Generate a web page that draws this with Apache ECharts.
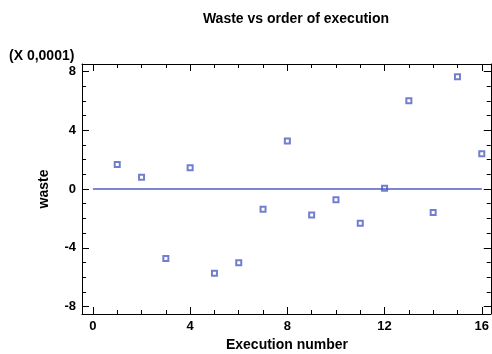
<!DOCTYPE html>
<html>
<head>
<meta charset="UTF-8">
<title>Waste vs order of execution</title>
<script src="https://cdn.jsdelivr.net/npm/echarts@6/dist/echarts.min.js"></script>
<style>
  html, body { margin: 0; padding: 0; background: #fff; }
  #chart { width: 492px; height: 354px; }
</style>
</head>
<body>
<div id="chart"></div>
<script>
// execution order and waste (in units of 0.0001)
var runs  = [1, 2, 3, 4, 5, 6, 7, 8, 9, 10, 11, 12, 13, 14, 15, 16];
var waste = [1.67, 0.80, -4.73, 1.44, -5.73, -5.02, -1.37, 3.27, -1.76, -0.73, -2.33, 0.05, 6.0, -1.6, 7.63, 2.39];
var zeroLineX = [0, 16];
var xMajor = [0, 4, 8, 12, 16];
var yMajor = [-8, -4, 0, 4, 8];
var xMinor = [0, 1, 2, 3, 4, 5, 6, 7, 8, 9, 10, 11, 12, 13, 14, 15, 16];
var yMinor = [-8, -7, -6, -5, -4, -3, -2, -1, 0, 1, 2, 3, 4, 5, 6, 7, 8];

var font = 'Liberation Sans, Arial, sans-serif';
var blue = '#4d5ec2';
var xRange = [-0.45, 16.37];
var yRange = [-8.5, 8.5];

function axis(range, pos, ticks, len, labels, line) {
  return {
    type: 'value', position: pos, min: range[0], max: range[1],
    splitLine: { show: false },
    axisLine: { show: line, onZero: false, lineStyle: { color: '#000', width: 1 } },
    axisTick: { show: true, inside: true, length: len, customValues: ticks, lineStyle: { color: '#000' } },
    axisLabel: labels ? { show: true, customValues: ticks, color: '#000', fontFamily: font, fontWeight: 'bold', fontSize: 13, margin: 6 } : { show: false }
  };
}

var chart = echarts.init(document.getElementById('chart'), null, { renderer: 'canvas' });
chart.setOption({
  animation: false,
  graphic: [
    { type: 'text', x: 296, y: 19, style: { text: 'Waste vs order of execution', font: 'bold 14px ' + font, fill: '#000', align: 'center', verticalAlign: 'middle' } },
    { type: 'text', left: 9, top: 49, style: { text: '(X 0,0001)', font: 'bold 14px ' + font, fill: '#000' } },
    { type: 'text', x: 44, y: 189, rotation: Math.PI / 2, style: { text: 'waste', font: 'bold 14px ' + font, fill: '#000', align: 'center', verticalAlign: 'middle' } },
    { type: 'text', x: 287, y: 345, style: { text: 'Execution number', font: 'bold 14px ' + font, fill: '#000', align: 'center', verticalAlign: 'middle' } }
  ],
  grid: { left: 82, right: 1, top: 64, bottom: 40 },
  xAxis: [
    axis(xRange, 'bottom', xMajor, 7, true, true),
    axis(xRange, 'bottom', xMinor, 4, false, false),
    axis(xRange, 'top', xMajor, 7, false, true),
    axis(xRange, 'top', xMinor, 4, false, false)
  ],
  yAxis: [
    axis(yRange, 'left', yMajor, 7, true, true),
    axis(yRange, 'left', yMinor, 4, false, false),
    axis(yRange, 'right', yMajor, 7, false, true),
    axis(yRange, 'right', yMinor, 4, false, false)
  ],
  series: [
    {
      type: 'line', xAxisIndex: 0, yAxisIndex: 0,
      data: zeroLineX.map(function (x) { return [x, 0]; }),
      symbol: 'none', lineStyle: { color: blue, width: 1.5 }, silent: true
    },
    {
      type: 'scatter', xAxisIndex: 0, yAxisIndex: 0,
      data: runs.map(function (r, i) { return [r, waste[i]]; }),
      symbol: 'rect', symbolSize: 5,
      itemStyle: { color: '#fff', borderColor: blue, borderWidth: 2 }
    }
  ]
});
</script>
</body>
</html>
